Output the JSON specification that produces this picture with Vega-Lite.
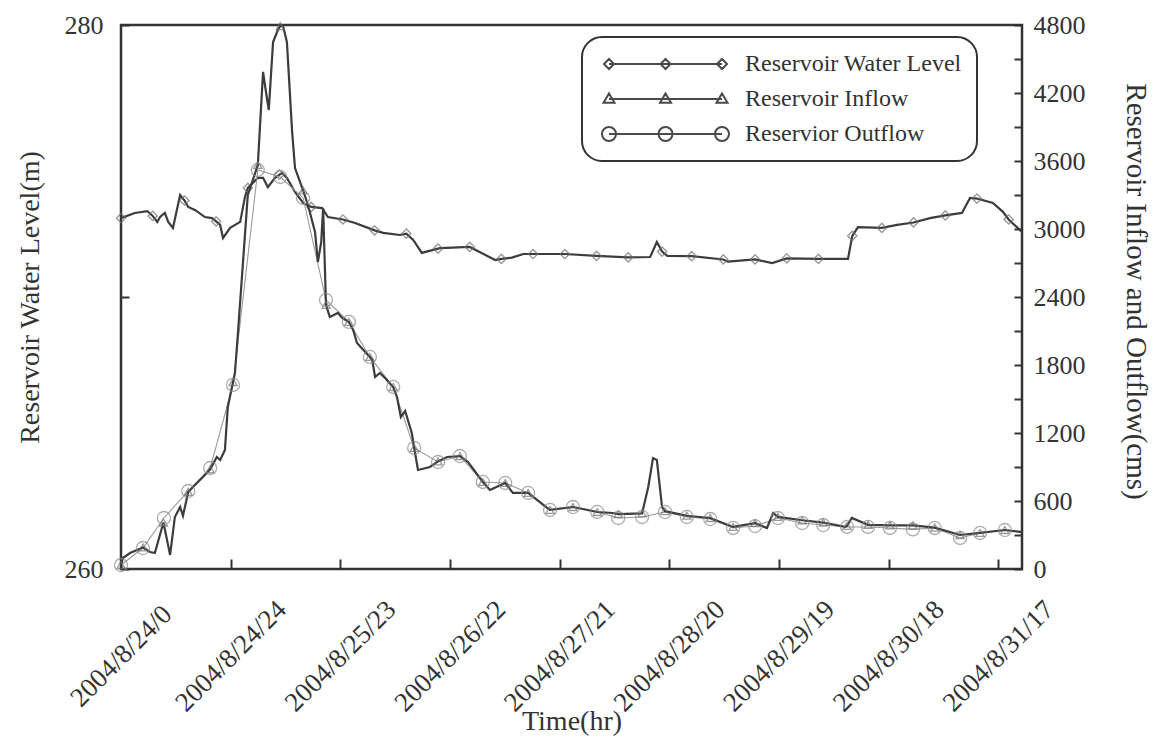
{
  "$schema": "https://vega.github.io/schema/vega-lite/v6.json",
  "width": 901,
  "height": 544,
  "autosize": {"type": "none"},
  "padding": {"left": 121, "top": 25, "right": 137, "bottom": 172},
  "background": "white",
  "config": {
    "font": "Liberation Serif",
    "view": {"stroke": "#333333", "strokeWidth": 2.5},
    "axis": {"grid": false, "domain": false, "tickColor": "#333333", "tickWidth": 2, "labelColor": "#333333", "titleColor": "#333333", "titleFontWeight": "normal", "labelFlush": false, "labelOverlap": false},
    "legend": {"labelFont": "Liberation Serif", "strokeWidth": 2}
  },
  "datasets": {
    "level": [
      {"t": 0, "level": 272.9}, {"t": 2.9, "level": 273.09}, {"t": 5.5, "level": 273.16}, {"t": 6.65, "level": 272.98},
      {"t": 7.6, "level": 272.76}, {"t": 8.2, "level": 272.94}, {"t": 9.2, "level": 273.09}, {"t": 9.9, "level": 272.76},
      {"t": 10.9, "level": 272.54}, {"t": 12.4, "level": 273.75}, {"t": 13.3, "level": 273.55}, {"t": 14.1, "level": 273.31},
      {"t": 15.5, "level": 273.2}, {"t": 17.6, "level": 272.94}, {"t": 19.1, "level": 272.9}, {"t": 19.95, "level": 272.78},
      {"t": 20.8, "level": 272.65}, {"t": 21.4, "level": 272.17}, {"t": 22.9, "level": 272.54}, {"t": 25.0, "level": 272.76},
      {"t": 26.0, "level": 273.68}, {"t": 26.6, "level": 274.01}, {"t": 28.7, "level": 274.38}, {"t": 29.8, "level": 274.38},
      {"t": 30.8, "level": 274.04}, {"t": 32.3, "level": 274.38}, {"t": 33.25, "level": 274.5}, {"t": 33.8, "level": 274.56},
      {"t": 34.8, "level": 274.38}, {"t": 36.5, "level": 273.86}, {"t": 38.2, "level": 273.46}, {"t": 39.9, "level": 273.31},
      {"t": 42.2, "level": 273.27}, {"t": 43.4, "level": 272.94}, {"t": 46.55, "level": 272.85}, {"t": 49.1, "level": 272.72},
      {"t": 53.2, "level": 272.45}, {"t": 55.0, "level": 272.36}, {"t": 58.5, "level": 272.28}, {"t": 59.85, "level": 272.33},
      {"t": 61.3, "level": 272.1}, {"t": 63.1, "level": 271.62}, {"t": 66.5, "level": 271.78}, {"t": 67.0, "level": 271.8},
      {"t": 73.15, "level": 271.84}, {"t": 78.5, "level": 271.36}, {"t": 79.8, "level": 271.4}, {"t": 82.0, "level": 271.45},
      {"t": 84.4, "level": 271.58}, {"t": 86.45, "level": 271.58}, {"t": 93.1, "level": 271.58}, {"t": 99.75, "level": 271.51},
      {"t": 106.4, "level": 271.46}, {"t": 111.0, "level": 271.47}, {"t": 112.4, "level": 272.02}, {"t": 113.5, "level": 271.67},
      {"t": 114.6, "level": 271.51}, {"t": 119.7, "level": 271.5}, {"t": 126.35, "level": 271.38}, {"t": 127.3, "level": 271.3},
      {"t": 133.0, "level": 271.38}, {"t": 136.6, "level": 271.25}, {"t": 139.65, "level": 271.42}, {"t": 146.3, "level": 271.4},
      {"t": 152.5, "level": 271.4}, {"t": 153.4, "level": 272.25}, {"t": 154.6, "level": 272.57}, {"t": 159.6, "level": 272.54},
      {"t": 162.8, "level": 272.65}, {"t": 166.25, "level": 272.74}, {"t": 169.7, "level": 272.9}, {"t": 172.9, "level": 273.0},
      {"t": 176.4, "level": 273.09}, {"t": 178.1, "level": 273.64}, {"t": 179.55, "level": 273.62}, {"t": 182.9, "level": 273.46},
      {"t": 185.0, "level": 273.13}, {"t": 186.2, "level": 272.85}, {"t": 189.0, "level": 272.39}
    ],
    "levelMarks": [
      {"t": 0, "level": 272.9}, {"t": 6.65, "level": 272.98}, {"t": 13.3, "level": 273.55}, {"t": 19.95, "level": 272.78},
      {"t": 26.6, "level": 274.01}, {"t": 33.25, "level": 274.5}, {"t": 39.9, "level": 273.31}, {"t": 46.55, "level": 272.85},
      {"t": 53.2, "level": 272.45}, {"t": 59.85, "level": 272.33}, {"t": 66.5, "level": 271.78}, {"t": 73.15, "level": 271.84},
      {"t": 79.8, "level": 271.4}, {"t": 86.45, "level": 271.58}, {"t": 93.1, "level": 271.58}, {"t": 99.75, "level": 271.51},
      {"t": 106.4, "level": 271.46}, {"t": 113.5, "level": 271.67}, {"t": 119.7, "level": 271.5}, {"t": 126.35, "level": 271.38},
      {"t": 133.0, "level": 271.38}, {"t": 139.65, "level": 271.42}, {"t": 146.3, "level": 271.4}, {"t": 153.4, "level": 272.25},
      {"t": 159.6, "level": 272.54}, {"t": 166.25, "level": 272.74}, {"t": 172.9, "level": 273.0}, {"t": 179.55, "level": 273.62},
      {"t": 186.2, "level": 272.85}
    ],
    "inflow": [
      {"t": 0, "flow": 35}, {"t": 0.4, "flow": 97}, {"t": 1.9, "flow": 141}, {"t": 4.6, "flow": 190}, {"t": 6.1, "flow": 150},
      {"t": 7.1, "flow": 141}, {"t": 8.9, "flow": 410}, {"t": 10.3, "flow": 124}, {"t": 11.3, "flow": 459}, {"t": 12.4, "flow": 547},
      {"t": 13.0, "flow": 470}, {"t": 14.1, "flow": 680}, {"t": 15.5, "flow": 741}, {"t": 17.2, "flow": 812}, {"t": 18.7, "flow": 880},
      {"t": 20.1, "flow": 988}, {"t": 20.8, "flow": 962}, {"t": 21.8, "flow": 1050}, {"t": 22.4, "flow": 1430}, {"t": 23.5, "flow": 1650},
      {"t": 23.9, "flow": 1730}, {"t": 24.5, "flow": 2065}, {"t": 26.6, "flow": 3300}, {"t": 28.7, "flow": 3565}, {"t": 29.8, "flow": 4386},
      {"t": 30.6, "flow": 4156}, {"t": 31.0, "flow": 4050}, {"t": 31.9, "flow": 4650}, {"t": 32.9, "flow": 4756}, {"t": 33.4, "flow": 4790},
      {"t": 34.0, "flow": 4790}, {"t": 34.8, "flow": 4650}, {"t": 35.9, "flow": 3856}, {"t": 36.5, "flow": 3538}, {"t": 38.2, "flow": 3340},
      {"t": 39.0, "flow": 3238}, {"t": 39.6, "flow": 3150}, {"t": 40.7, "flow": 2974}, {"t": 41.3, "flow": 2709}, {"t": 42.0, "flow": 2885},
      {"t": 42.4, "flow": 3185}, {"t": 43.0, "flow": 2330}, {"t": 43.8, "flow": 2224}, {"t": 45.5, "flow": 2259}, {"t": 46.4, "flow": 2215},
      {"t": 47.8, "flow": 2180}, {"t": 48.7, "flow": 2109}, {"t": 49.5, "flow": 1994}, {"t": 51.6, "flow": 1897}, {"t": 52.2, "flow": 1871},
      {"t": 52.7, "flow": 1844}, {"t": 53.3, "flow": 1694}, {"t": 54.3, "flow": 1730}, {"t": 55.6, "flow": 1677}, {"t": 56.3, "flow": 1641},
      {"t": 57.1, "flow": 1606}, {"t": 57.9, "flow": 1518}, {"t": 58.7, "flow": 1341}, {"t": 59.6, "flow": 1394}, {"t": 61.0, "flow": 1200},
      {"t": 61.5, "flow": 1068}, {"t": 62.3, "flow": 874}, {"t": 64.8, "flow": 900}, {"t": 66.5, "flow": 950}, {"t": 68.4, "flow": 988},
      {"t": 71.1, "flow": 997}, {"t": 72.8, "flow": 944}, {"t": 75.9, "flow": 768}, {"t": 77.4, "flow": 697}, {"t": 80.6, "flow": 759},
      {"t": 82.2, "flow": 671}, {"t": 85.4, "flow": 671}, {"t": 89.4, "flow": 540}, {"t": 90.0, "flow": 521}, {"t": 94.8, "flow": 547},
      {"t": 99.9, "flow": 503}, {"t": 103.2, "flow": 494}, {"t": 104.3, "flow": 485}, {"t": 109.3, "flow": 490}, {"t": 110.6, "flow": 724},
      {"t": 111.6, "flow": 979}, {"t": 112.4, "flow": 962}, {"t": 113.5, "flow": 547}, {"t": 114.1, "flow": 510}, {"t": 118.7, "flow": 470},
      {"t": 123.6, "flow": 450}, {"t": 128.4, "flow": 371}, {"t": 133.0, "flow": 405}, {"t": 135.5, "flow": 362}, {"t": 136.8, "flow": 494},
      {"t": 137.8, "flow": 460}, {"t": 142.9, "flow": 430}, {"t": 147.3, "flow": 410}, {"t": 151.9, "flow": 371}, {"t": 152.3, "flow": 380},
      {"t": 153.3, "flow": 450}, {"t": 156.7, "flow": 390}, {"t": 161.3, "flow": 385}, {"t": 166.1, "flow": 385}, {"t": 170.7, "flow": 365},
      {"t": 176.0, "flow": 300}, {"t": 180.2, "flow": 318}, {"t": 185.4, "flow": 344}, {"t": 189.0, "flow": 326}
    ],
    "inMarks": [
      {"t": 0, "flow": 35}, {"t": 4.6, "flow": 190}, {"t": 8.9, "flow": 410}, {"t": 14.1, "flow": 680}, {"t": 18.7, "flow": 880},
      {"t": 23.5, "flow": 1650}, {"t": 28.7, "flow": 3565}, {"t": 33.4, "flow": 4790}, {"t": 38.2, "flow": 3340}, {"t": 43.0, "flow": 2330},
      {"t": 47.8, "flow": 2180}, {"t": 52.2, "flow": 1871}, {"t": 57.1, "flow": 1606}, {"t": 61.5, "flow": 1068}, {"t": 66.5, "flow": 950},
      {"t": 71.1, "flow": 997}, {"t": 75.9, "flow": 768}, {"t": 80.6, "flow": 759}, {"t": 85.4, "flow": 671}, {"t": 90.0, "flow": 521},
      {"t": 94.8, "flow": 547}, {"t": 99.9, "flow": 503}, {"t": 104.3, "flow": 485}, {"t": 109.3, "flow": 490}, {"t": 114.1, "flow": 510},
      {"t": 118.7, "flow": 470}, {"t": 123.6, "flow": 450}, {"t": 128.4, "flow": 371}, {"t": 133.0, "flow": 405}, {"t": 137.8, "flow": 460},
      {"t": 142.9, "flow": 430}, {"t": 147.3, "flow": 410}, {"t": 152.3, "flow": 380}, {"t": 156.7, "flow": 390}, {"t": 161.3, "flow": 385},
      {"t": 166.1, "flow": 385}, {"t": 170.7, "flow": 365}, {"t": 176.0, "flow": 300}, {"t": 180.2, "flow": 318}, {"t": 185.4, "flow": 344}
    ],
    "outflow": [
      {"t": 0, "flow": 35}, {"t": 4.6, "flow": 185}, {"t": 9.0, "flow": 450}, {"t": 14.1, "flow": 688}, {"t": 18.7, "flow": 891},
      {"t": 23.5, "flow": 1624}, {"t": 28.7, "flow": 3521}, {"t": 33.4, "flow": 3459}, {"t": 38.2, "flow": 3274}, {"t": 43.0, "flow": 2374},
      {"t": 47.8, "flow": 2180}, {"t": 52.2, "flow": 1871}, {"t": 57.1, "flow": 1606}, {"t": 61.5, "flow": 1068}, {"t": 66.5, "flow": 944},
      {"t": 71.1, "flow": 997}, {"t": 75.9, "flow": 768}, {"t": 80.6, "flow": 759}, {"t": 85.4, "flow": 671}, {"t": 90.0, "flow": 521},
      {"t": 94.8, "flow": 547}, {"t": 99.9, "flow": 503}, {"t": 104.3, "flow": 450}, {"t": 109.3, "flow": 459}, {"t": 114.1, "flow": 503},
      {"t": 118.7, "flow": 459}, {"t": 123.6, "flow": 441}, {"t": 128.4, "flow": 362}, {"t": 133.0, "flow": 379}, {"t": 137.8, "flow": 450},
      {"t": 142.9, "flow": 406}, {"t": 147.3, "flow": 388}, {"t": 152.3, "flow": 371}, {"t": 156.7, "flow": 371}, {"t": 161.3, "flow": 362},
      {"t": 166.1, "flow": 350}, {"t": 170.7, "flow": 362}, {"t": 176.0, "flow": 274}, {"t": 180.2, "flow": 318}, {"t": 185.4, "flow": 344}
    ],
    "legend": [
      {"t": 0, "flow": 0, "series": "Reservoir Water Level"},
      {"t": 0, "flow": 0, "series": "Reservoir Inflow"},
      {"t": 0, "flow": 0, "series": "Reservior Outflow"}
    ]
  },
  "encoding": {
    "x": {
      "field": "t", "type": "quantitative",
      "scale": {"domain": [0, 189], "nice": false, "zero": false},
      "axis": {
        "values": [0, 23, 46, 69, 92, 115, 138, 161, 184],
        "labelExpr": "datum.value == 0 ? '2004/8/24/0' : datum.value == 23 ? '2004/8/24/24' : datum.value == 46 ? '2004/8/25/23' : datum.value == 69 ? '2004/8/26/22' : datum.value == 92 ? '2004/8/27/21' : datum.value == 115 ? '2004/8/28/20' : datum.value == 138 ? '2004/8/29/19' : datum.value == 161 ? '2004/8/30/18' : '2004/8/31/17'",
        "labelAngle": -45, "labelAlign": "center", "labelBaseline": "middle",
        "labelFontSize": 27, "labelPadding": 97, "tickSize": -10,
        "title": "Time(hr)", "titleFontSize": 28, "titleY": 152, "titleBaseline": "middle"
      }
    }
  },
  "layer": [
    {
      "encoding": {
        "y": {
          "field": "level", "type": "quantitative",
          "scale": {"domain": [260, 280], "nice": false, "zero": false},
          "axis": {
            "orient": "left", "values": [260, 270, 280],
            "labelExpr": "datum.value == 270 ? '' : datum.label",
            "labelFontSize": 26, "labelPadding": 26, "tickSize": -8, "labelBaseline": "middle",
            "title": "Reservoir Water Level(m)", "titleFontSize": 28,
            "titleX": -91, "titleY": 272, "titleAngle": -90, "titleAlign": "center", "titleBaseline": "middle"
          }
        }
      },
      "layer": [
        {"data": {"name": "level"}, "mark": {"type": "line", "color": "#3c3c3c", "strokeWidth": 2.2}},
        {"data": {"name": "levelMarks"}, "mark": {"type": "point", "shape": "diamond", "filled": false, "color": "#707070", "size": 85, "strokeWidth": 1.4}}
      ]
    },
    {
      "encoding": {
        "y": {
          "field": "flow", "type": "quantitative",
          "scale": {"domain": [0, 4800], "nice": false, "zero": true},
          "axis": {
            "orient": "right",
            "values": [0, 300, 600, 900, 1200, 1500, 1800, 2100, 2400, 2700, 3000, 3300, 3600, 3900, 4200, 4500, 4800],
            "format": "d",
            "labelExpr": "datum.value % 600 == 0 ? datum.label : ''",
            "labelFontSize": 26, "labelPadding": 19, "tickSize": -8, "labelBaseline": "middle",
            "title": "Reservoir Inflow and Outflow(cms)", "titleFontSize": 29,
            "titleX": 113, "titleY": 266, "titleAngle": 90, "titleAlign": "center", "titleBaseline": "middle"
          }
        }
      },
      "layer": [
        {"data": {"name": "outflow"}, "mark": {"type": "line", "color": "#9a9a9a", "strokeWidth": 1.1}},
        {"data": {"name": "inflow"}, "mark": {"type": "line", "color": "#3c3c3c", "strokeWidth": 2.2}},
        {"data": {"name": "inMarks"}, "mark": {"type": "point", "shape": "triangle-up", "filled": false, "color": "#707070", "size": 65, "strokeWidth": 1.3}},
        {"data": {"name": "outflow"}, "mark": {"type": "point", "shape": "circle", "filled": false, "color": "#8a8a8a", "size": 170, "strokeWidth": 1.3}},
        {
          "data": {"name": "legend"},
          "mark": {"type": "point", "filled": false, "color": "#555555", "opacity": 0},
          "encoding": {
            "shape": {
              "field": "series", "type": "nominal",
              "scale": {
                "domain": ["Reservoir Water Level", "Reservoir Inflow", "Reservior Outflow"],
                "range": [
                  "M0,0L11.3,0M0,-0.5L0.5,0L0,0.5L-0.5,0ZM5.65,-0.5L6.15,0L5.65,0.5L5.15,0ZM11.3,-0.5L11.8,0L11.3,0.5L10.8,0Z",
                  "M0,0L11.3,0M0,-0.55L0.55,0.38L-0.55,0.38ZM5.65,-0.55L6.2,0.38L5.1,0.38ZM11.3,-0.55L11.85,0.38L10.75,0.38Z",
                  "M0,0L11.3,0M0.7,0A0.7,0.7,0,1,1,-0.7,0A0.7,0.7,0,1,1,0.7,0M6.35,0A0.7,0.7,0,1,1,4.95,0A0.7,0.7,0,1,1,6.35,0M12,0A0.7,0.7,0,1,1,10.6,0A0.7,0.7,0,1,1,12,0"
                ]
              },
              "legend": {
                "title": null, "orient": "none", "legendX": 461, "legendY": 12,
                "symbolSize": 400, "symbolOpacity": 1, "symbolStrokeColor": "#4a4a4a", "symbolFillColor": "transparent",
                "symbolStrokeWidth": 2, "labelFontSize": 24, "labelColor": "#333333", "labelOffset": 124, "labelLimit": 400,
                "rowPadding": 11, "padding": 15, "strokeColor": "#333333", "cornerRadius": 20, "fillColor": "white"
              }
            }
          }
        }
      ]
    }
  ],
  "resolve": {"scale": {"y": "independent"}}
}
